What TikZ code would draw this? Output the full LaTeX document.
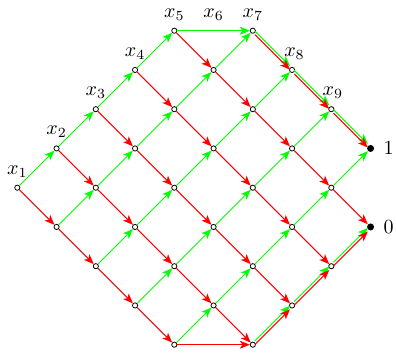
\documentclass[tikz,border=0pt]{standalone}
\usetikzlibrary{arrows.meta,positioning}

\tikzset{
  var/.style={circle,draw,fill=white,inner sep=0pt,minimum size=2.6pt},
  leaf/.style={circle,fill,inner sep=0pt,minimum size=3.5pt},
  oneedge/.style={green,line width=0.5pt,-{Stealth[length=5pt,width=4pt,inset=1.3pt]}},
  zeroedge/.style={red,line width=0.5pt,-{Stealth[length=5pt,width=4pt,inset=1.3pt]}},
  hishift/.style={transform canvas={yshift=0.9pt}},
  loshift/.style={transform canvas={yshift=-0.9pt}}
}

\begin{document}
\begin{tikzpicture}[x=0.69cm,y=0.69cm]
  \useasboundingbox (-0.441,-4.186) rectangle (9.648,4.782);

  % decision nodes, n<i><j>: i ones and j zeros read so far
  \foreach \i in {0,...,4}
    \foreach \j in {0,...,4}
      \node[var] (n\i\j) at (\i+\j,\i-\j) {};
  \foreach \k in {1,2,3} {
    \node[var] (n5\k) at (5+\k,5-\k) {};
    \node[var] (n\k5) at (\k+5,\k-5) {};
  }

  % terminals
  \node[leaf] (n54) at (9,1) {};
  \node[leaf] (n45) at (9,-1) {};
  \node[right=3pt] (t1) at (n54) {$1$};
  \node[right=3pt] (t0) at (n45) {$0$};

  % variable labels
  \foreach \k in {0,...,4} {
    \pgfmathtruncatemacro\idx{\k+1}
    \node[above=1.8pt] (x\idx) at (n\k0) {$x_\idx$};
  }
  \node[above=1.8pt] (x6) at (5,4) {$x_6$};
  \node[above=1.8pt] (x7) at (n51) {$x_7$};
  \node[above=1.8pt,xshift=1.2pt] (x8) at (n52) {$x_8$};
  \node[above=1.8pt,xshift=0.8pt] (x9) at (n53) {$x_9$};

  % edges inside the lattice
  \foreach \i in {0,...,4}
    \foreach \j in {0,...,4} {
      \pgfmathtruncatemacro\inext{\i+1}
      \pgfmathtruncatemacro\jnext{\j+1}
      \ifnum\i\j=40 \else \draw[oneedge] (n\i\j) -- (n\inext\j); \fi
      \ifnum\i\j=4 \else \draw[zeroedge] (n\i\j) -- (n\i\jnext); \fi
    }

  % x6 is skipped on the outer paths
  \draw[oneedge] (n40) -- (n51);
  \draw[zeroedge] (n04) -- (n15);

  % value fixed: both edges lead the same way
  \foreach \k in {1,2,3} {
    \pgfmathtruncatemacro\knext{\k+1}
    \draw[oneedge,hishift] (n5\k) -- (n5\knext);
    \draw[zeroedge,loshift] (n5\k) -- (n5\knext);
    \draw[oneedge,hishift] (n\k5) -- (n\knext5);
    \draw[zeroedge,loshift] (n\k5) -- (n\knext5);
  }
\end{tikzpicture}
\end{document}
